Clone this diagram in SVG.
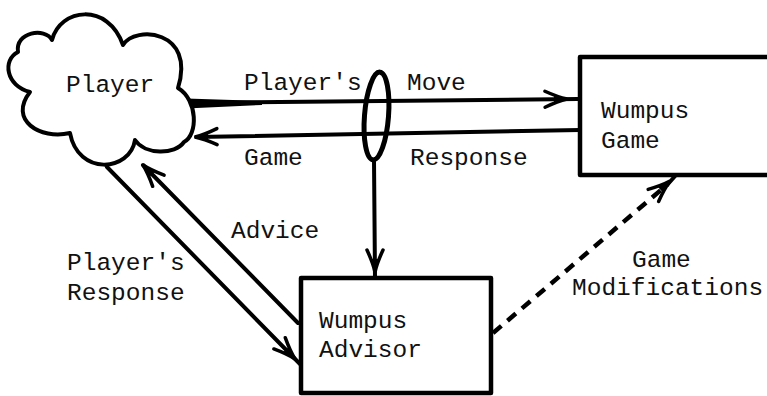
<svg xmlns="http://www.w3.org/2000/svg" xmlns:xlink="http://www.w3.org/1999/xlink" width="767" height="396" viewBox="0 0 767 396">
<style>
  .t { font-family: "Liberation Mono", "Courier New", monospace; font-size: 24.5px; fill: #111; }
  .box { fill: #fff; stroke: #000; stroke-width: 4.5; stroke-linejoin: round; }
  .ln { fill: none; stroke: #000; stroke-width: 4; stroke-linecap: round; }
  .dash { fill: none; stroke: #000; stroke-width: 4.5; stroke-dasharray: 11 8; }
</style>
<defs>
  <g id="ah">
    <path d="M-22,-8 Q-9,-2 0,0 Q-9,2 -22,8" fill="none" stroke="#000" stroke-width="3.5" stroke-linecap="round"/>
    <path d="M0,0 L-13,-4 L-13,4 Z" fill="#000"/>
  </g>
</defs>
<rect width="767" height="396" fill="#fff"/>

<g id="connectors">
  <!-- Player's Move -->
  <path class="ln" d="M190,103 L578,99"/>
  <path d="M186,98.5 L186,108.5 L262,105 L262,101 Z" fill="#000"/>
  <use xlink:href="#ah" transform="translate(567,99) rotate(-0.6)"/>
  <!-- Game Response -->
  <path class="ln" d="M580,130 L196,137"/>
  <use xlink:href="#ah" transform="translate(195,137) rotate(179)"/>
  <!-- ellipse tap -->
  <ellipse cx="376.5" cy="116" rx="12" ry="44" transform="rotate(4.5 376.5 116)" fill="none" stroke="#000" stroke-width="5"/>
  <path class="ln" d="M374,160 L375,278"/>
  <use xlink:href="#ah" transform="translate(375,272) rotate(90)"/>
  <!-- Player's Response -->
  <path class="ln" d="M107,167 L300,364"/>
  <use xlink:href="#ah" transform="translate(295,359) rotate(45.4)"/>
  <!-- Advice -->
  <path class="ln" d="M298,323 L143,165"/>
  <use xlink:href="#ah" transform="translate(143,165) rotate(-134.4)"/>
  <!-- Game Modifications -->
  <path class="dash" d="M493,333 L668,184"/>
  <path class="ln" d="M668,184 L676,175"/>
  <use xlink:href="#ah" transform="translate(670,181) rotate(-40.9)"/>
</g>

<g id="player">
  <path d="M30,92 C6,86 2,60 18,52 C15,32 45,27 52,40 C60,8 108,2 123,45 C135,25 196,30 178,88 C198,100 198,135 184,142 C175,155 145,155 135,140 C130,172 78,176 70,133 C40,140 8,120 30,92 Z" fill="#fff" stroke="#000" stroke-width="4" stroke-linejoin="round"/>
  <text class="t" x="66" y="92">Player</text>
</g>

<g id="wumpus-game">
  <rect class="box" x="580" y="57" width="210" height="118"/>
  <text class="t" x="601" y="118">Wumpus</text>
  <text class="t" x="601" y="148">Game</text>
</g>

<g id="wumpus-advisor">
  <rect class="box" x="301" y="278" width="190" height="115"/>
  <text class="t" x="319" y="328">Wumpus</text>
  <text class="t" x="319" y="357">Advisor</text>
</g>

<g id="labels">
  <text class="t" x="244" y="90">Player's</text>
  <text class="t" x="407" y="90">Move</text>
  <text class="t" x="244" y="165">Game</text>
  <text class="t" x="410" y="165">Response</text>
  <text class="t" x="231" y="238">Advice</text>
  <text class="t" x="67" y="270">Player's</text>
  <text class="t" x="67" y="300">Response</text>
  <text class="t" x="632" y="267">Game</text>
  <text class="t" x="572" y="295">Modifications</text>
</g>
</svg>
